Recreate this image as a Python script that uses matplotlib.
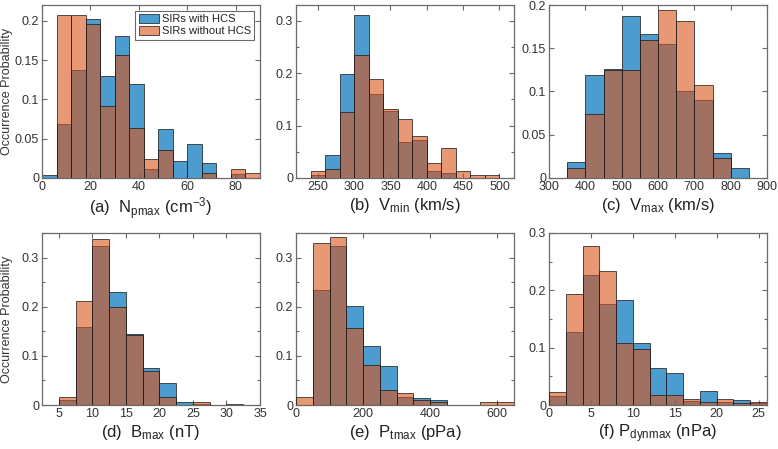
import numpy as np
import matplotlib
matplotlib.use("Agg")
import matplotlib.pyplot as plt
from matplotlib.ticker import FuncFormatter, MultipleLocator

plt.rcParams['font.family'] = ['Liberation Sans', 'DejaVu Sans']
plt.rcParams['mathtext.fontset'] = 'custom'
plt.rcParams['mathtext.rm'] = 'Liberation Sans'
plt.rcParams['mathtext.it'] = 'Liberation Sans:italic'

# ---- data (bin edges and occurrence probabilities) ----
np_edges = np.arange(0, 91, 6)
np_with = [0.004, 0.069, 0.137, 0.202, 0.130, 0.180, 0.119, 0.011, 0.062, 0.022, 0.043, 0.019, 0.0, 0.005, 0.0]
np_without = [0.0, 0.207, 0.207, 0.196, 0.092, 0.156, 0.064, 0.024, 0.035, 0.0, 0.0, 0.006, 0.0, 0.012, 0.006]

vmin_edges = np.arange(240, 501, 20)
vmin_with = [0.005, 0.044, 0.199, 0.311, 0.160, 0.128, 0.069, 0.072, 0.014, 0.009, 0.0, 0.0, 0.0]
vmin_without = [0.013, 0.018, 0.125, 0.234, 0.188, 0.131, 0.113, 0.080, 0.029, 0.058, 0.013, 0.006, 0.006]

vmax_edges = np.arange(350, 851, 50)
vmax_with = [0.018, 0.119, 0.126, 0.187, 0.166, 0.155, 0.101, 0.090, 0.029, 0.011]
vmax_without = [0.012, 0.074, 0.125, 0.125, 0.159, 0.194, 0.182, 0.108, 0.023, 0.0]

bmax_edges = np.arange(5, 32.6, 2.5)
bmax_with = [0.011, 0.158, 0.324, 0.230, 0.144, 0.076, 0.044, 0.007, 0.003, 0.0, 0.003]
bmax_without = [0.017, 0.211, 0.338, 0.200, 0.143, 0.070, 0.017, 0.0, 0.006, 0.0, 0.0]

pt_edges = np.arange(0, 651, 50)
pt_with = [0.0, 0.234, 0.323, 0.202, 0.120, 0.079, 0.016, 0.015, 0.011, 0.0, 0.0, 0.0, 0.0]
pt_without = [0.017, 0.330, 0.341, 0.157, 0.081, 0.030, 0.024, 0.011, 0.006, 0.0, 0.0, 0.006, 0.006]

pd_edges = np.arange(0, 27, 2)
pd_with = [0.015, 0.128, 0.227, 0.177, 0.183, 0.109, 0.065, 0.055, 0.007, 0.025, 0.005, 0.008, 0.003]
pd_without = [0.023, 0.194, 0.278, 0.233, 0.109, 0.098, 0.018, 0.018, 0.011, 0.006, 0.011, 0.003, 0.006]

labels = ["SIRs with HCS", "SIRs without HCS"]

panels = [
    dict(edges=np_edges, w=np_with, wo=np_without, xlim=(0, 90), ylim=(0, 0.22),
         xt=[0, 20, 40, 60, 80], yt=0.05, ym=None,
         xl=r"(a)  N$_{\mathrm{pmax}}$ (cm$^{\mathrm{-3}}$)"),
    dict(edges=vmin_edges, w=vmin_with, wo=vmin_without, xlim=(220, 520), ylim=(0, 0.33),
         xt=[250, 300, 350, 400, 450, 500], yt=0.1, ym=0.05,
         xl=r"(b)  V$_{\mathrm{min}}$ (km/s)"),
    dict(edges=vmax_edges, w=vmax_with, wo=vmax_without, xlim=(300, 900), ylim=(0, 0.2),
         xt=[300, 400, 500, 600, 700, 800, 900], yt=0.05, ym=None,
         xl=r"(c)  V$_{\mathrm{max}}$ (km/s)"),
    dict(edges=bmax_edges, w=bmax_with, wo=bmax_without, xlim=(2.5, 35), ylim=(0, 0.35),
         xt=[5, 10, 15, 20, 25, 30, 35], yt=0.1, ym=0.05,
         xl=r"(d)  B$_{\mathrm{max}}$ (nT)"),
    dict(edges=pt_edges, w=pt_with, wo=pt_without, xlim=(0, 650), ylim=(0, 0.35),
         xt=[0, 200, 400, 600], yt=0.1, ym=0.05,
         xl=r"(e)  P$_{\mathrm{tmax}}$ (pPa)"),
    dict(edges=pd_edges, w=pd_with, wo=pd_without, xlim=(0, 26), ylim=(0, 0.3),
         xt=[0, 5, 10, 15, 20, 25], yt=0.1, ym=0.05,
         xl=r"(f) P$_{\mathrm{dynmax}}$ (nPa)"),
]

W, H = 778, 449
fig = plt.figure(figsize=(W / 100, H / 100), dpi=100)

lefts = [42, 296, 549]
width = 218
rows = [(5, 178), (233, 405)]

blue = (0.0, 0.447, 0.741, 0.7)
orange = (0.85, 0.325, 0.098, 0.6)
edge = (0.1, 0.1, 0.1, 0.75)
axcol = '#6a6a6a'
txtcol = '#333333'

fmt = FuncFormatter(lambda v, p: ('%g' % round(v, 4)))

for i, p in enumerate(panels):
    r, c = divmod(i, 3)
    top, bot = rows[r]
    ax = fig.add_axes([lefts[c] / W, 1 - bot / H, width / W, (bot - top) / H])
    e = np.asarray(p['edges'], dtype=float)
    wd = np.diff(e)
    ax.bar(e[:-1], p['w'], width=wd, align='edge', facecolor=blue, edgecolor=edge,
           linewidth=0.7, label=labels[0], zorder=2)
    ax.bar(e[:-1], p['wo'], width=wd, align='edge', facecolor=orange, edgecolor=edge,
           linewidth=0.7, label=labels[1], zorder=3)
    ax.set_xlim(*p['xlim'])
    ax.set_ylim(*p['ylim'])
    ax.set_xticks(p['xt'])
    ax.yaxis.set_major_locator(MultipleLocator(p['yt']))
    if p['ym']:
        ax.yaxis.set_minor_locator(MultipleLocator(p['ym']))
    ax.yaxis.set_major_formatter(fmt)
    ax.tick_params(which='both', direction='in', top=True, right=True,
                   colors=axcol, labelcolor=txtcol, labelsize=9, pad=2)
    ax.tick_params(which='major', length=3.5, width=0.8)
    ax.tick_params(which='minor', length=2, width=0.8)
    for s in ax.spines.values():
        s.set_color(axcol)
        s.set_linewidth(0.9)
    ax.set_xlabel(p['xl'], fontsize=12, color='#222222', labelpad=2)
    if c == 0:
        ax.set_ylabel("Occurrence Probability", fontsize=9, color=txtcol)
        ax.yaxis.set_label_coords(-0.132, 0.5)
    if i == 0:
        leg = ax.legend(loc='upper right', fontsize=8, frameon=True, fancybox=False,
                        borderpad=0.3, labelspacing=0.15, handlelength=1.8,
                        handleheight=0.9, handletextpad=0.3, borderaxespad=0.5)
        leg.get_frame().set_edgecolor('#444444')
        leg.get_frame().set_linewidth(0.8)
        for t in leg.get_texts():
            t.set_color('#222222')

fig.savefig("out.png", dpi=100)
